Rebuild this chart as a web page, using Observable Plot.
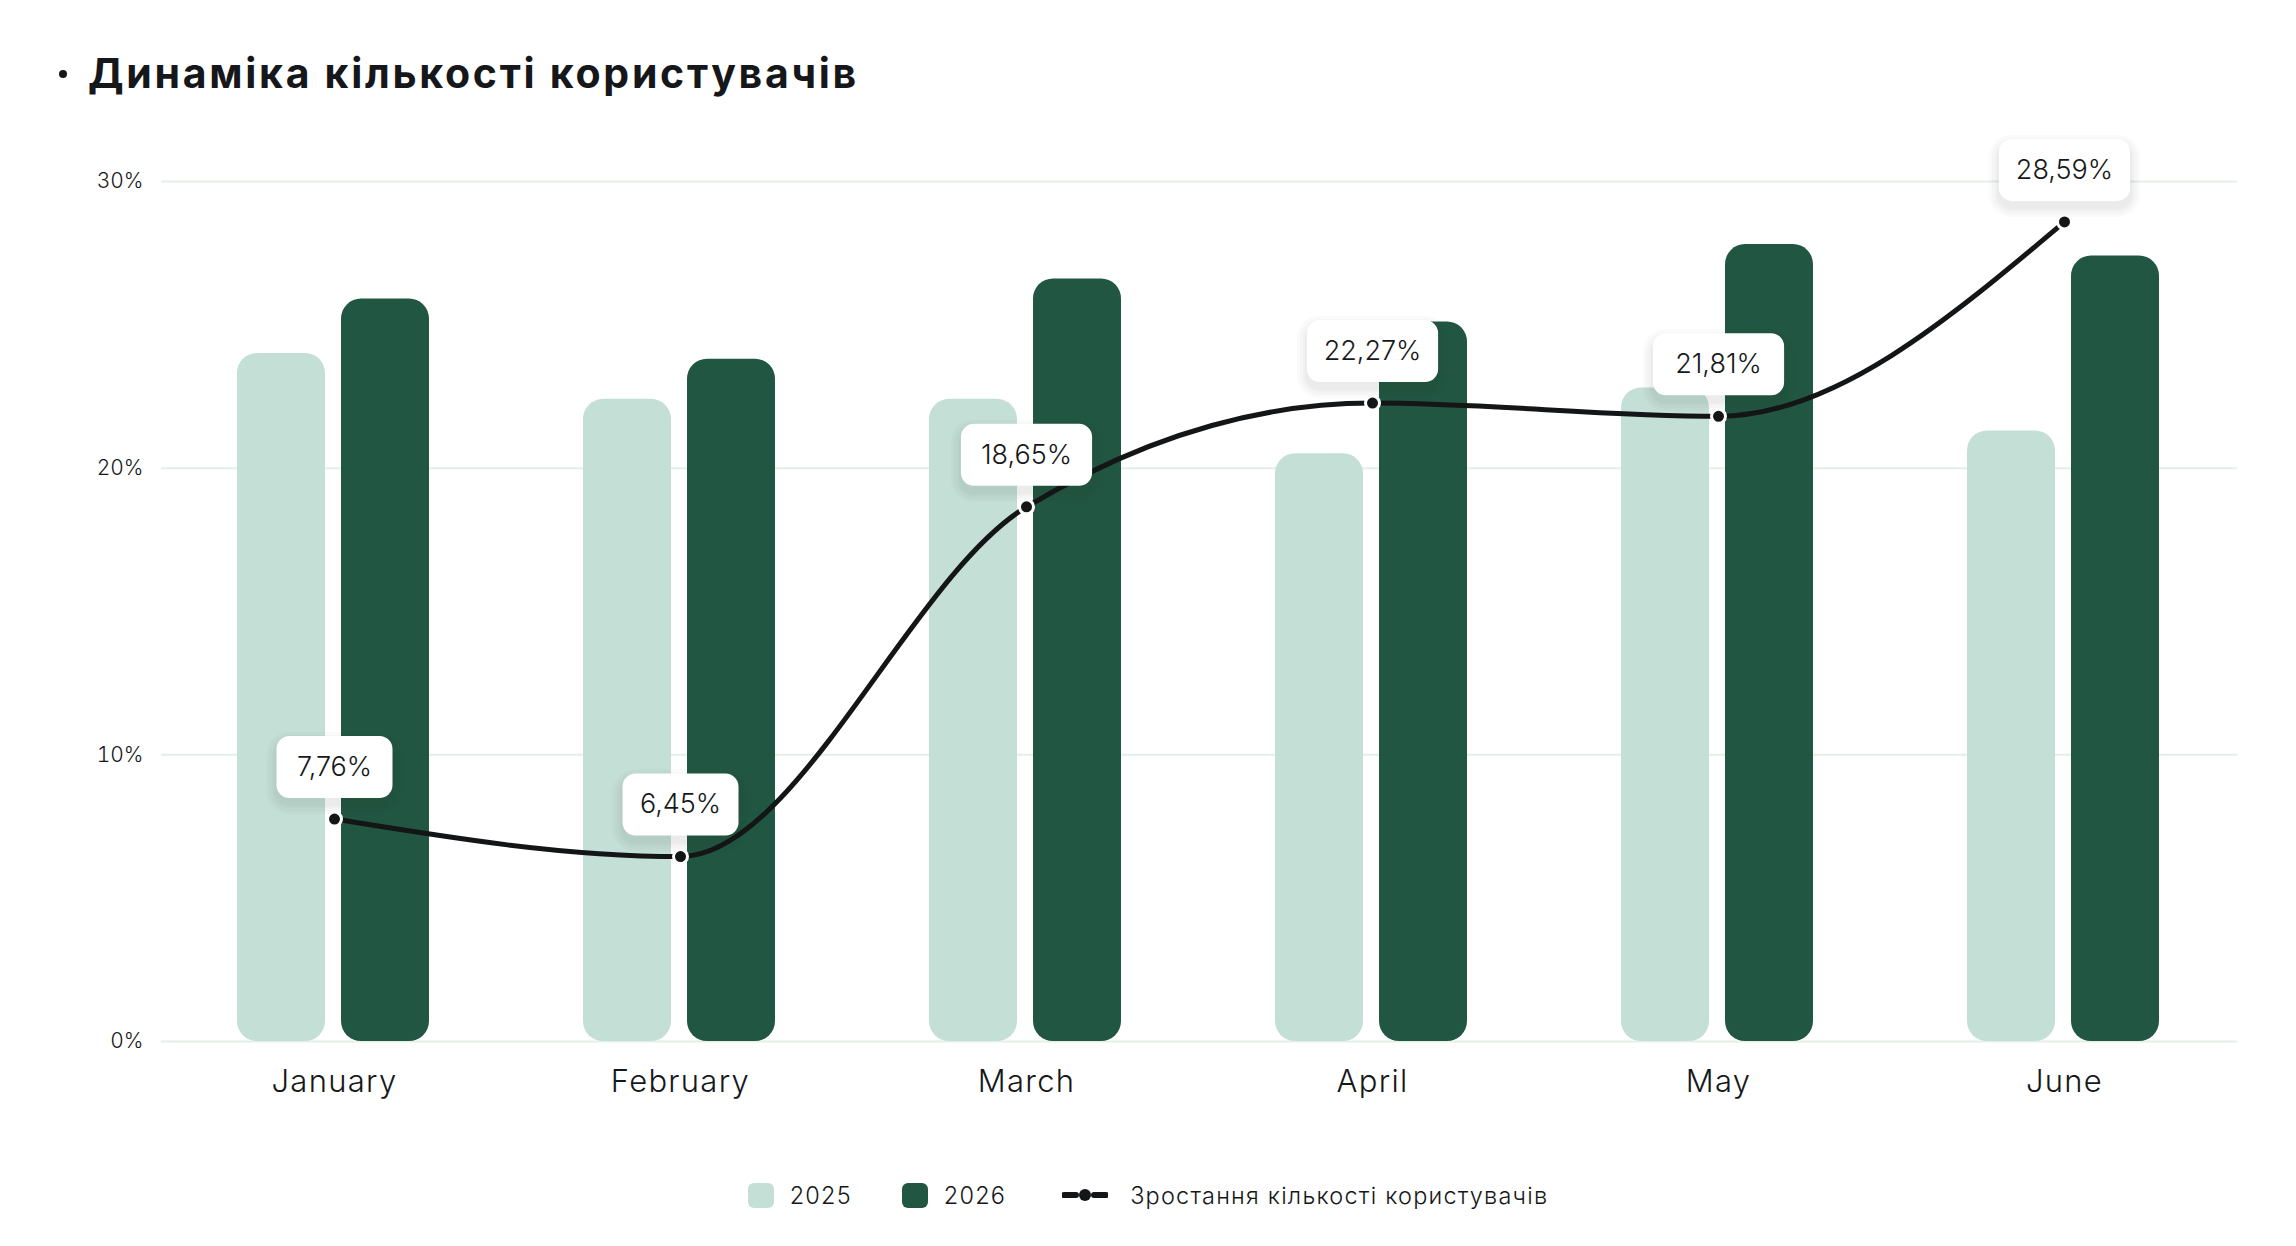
<!DOCTYPE html>
<html><head><meta charset="utf-8">
<script src="https://cdn.jsdelivr.net/npm/d3@7"></script>
<script src="https://cdn.jsdelivr.net/npm/@observablehq/plot@0.6"></script>
<style>
html,body{margin:0;padding:0;background:#fff;width:2296px;height:1246px;overflow:hidden;font-family:Inter, sans-serif;color:#16171a}
#title{position:absolute;left:88px;top:53px;font-size:41px;line-height:40px;font-weight:700;white-space:nowrap;letter-spacing:2.7px}
#bullet{position:absolute;left:59px;top:70px;width:8px;height:8px;border-radius:50%;background:#16171a}
#chart{position:absolute;left:0;top:120px}
#legend{position:absolute;left:0;width:2296px;top:1175px;height:40px;display:flex;justify-content:center;align-items:center;font-size:23.5px;font-weight:350;letter-spacing:1.2px}
.item{display:flex;align-items:center}
.sw{width:26px;height:25px;border-radius:6px;margin-right:16px}
.gap{width:50px}
g[aria-label="x-axis tick label"] text{letter-spacing:1.3px}
</style></head>
<body>
<div id="bullet"></div>
<div id="title">Динаміка кількості користувачів</div>
<div id="chart"></div>
<div id="legend">
  <div class="item"><div class="sw" style="background:#c4dfd6"></div><span>2025</span></div>
  <div class="gap"></div>
  <div class="item"><div class="sw" style="background:#215742"></div><span>2026</span></div>
  <div class="gap" style="width:56px"></div>
  <div class="item"><svg width="46" height="14" style="margin-right:22px"><line x1="2" y1="7" x2="14" y2="7" stroke="#141517" stroke-width="6" stroke-linecap="round"/><line x1="32" y1="7" x2="44" y2="7" stroke="#141517" stroke-width="6" stroke-linecap="round"/><circle cx="23" cy="7" r="6" fill="#141517"/></svg><span>Зростання кількості користувачів</span></div>
</div>
<script>
const months = ["January", "February", "March", "April", "May", "June"];
const users2025 = [24.0, 22.4, 22.4, 20.5, 22.8, 21.3];
const users2026 = [25.9, 23.8, 26.6, 25.1, 27.8, 27.4];
const growth = [7.76, 6.45, 18.65, 22.27, 21.81, 28.59];
const yTicks = [0, 10, 20, 30];

const data = months.map((m, i) => ({month: m, a: users2025[i], b: users2026[i], g: growth[i]}));
const fmt = v => v.toFixed(2).replace(".", ",") + "%";
const halfWidth = d => 20 + 7.6 * fmt(d.g).length;
const roundRect = (grow) => ({
  draw(ctx, size) {
    const w = Math.sqrt(size / Math.PI) + grow, h = 31 + grow, r = 13 + grow;
    ctx.moveTo(-w + r, -h);
    ctx.lineTo(w - r, -h);
    ctx.arcTo(w, -h, w, -h + r, r);
    ctx.lineTo(w, h - r);
    ctx.arcTo(w, h, w - r, h, r);
    ctx.lineTo(-w + r, h);
    ctx.arcTo(-w, h, -w, h - r, r);
    ctx.lineTo(-w, -h + r);
    ctx.arcTo(-w, -h, -w + r, -h, r);
    ctx.closePath();
  }
});
const shadowLayers = [10, 7, 4, 2].map(g =>
  Plot.dot(data, {x: "month", y: "g", r: halfWidth, symbol: roundRect(g), fill: "#1e2832", fillOpacity: 0.022, dy: -46})
);

const chart = Plot.plot({
  width: 2296, height: 1000,
  marginLeft: 161, marginRight: 59, marginTop: 61, marginBottom: 79,
  style: {fontFamily: "Inter, sans-serif", color: "#16171a", background: "transparent", overflow: "visible"},
  x: {type: "band", domain: months, padding: 0, label: null},
  y: {domain: [0, 30], label: null},
  r: {type: "identity"},
  marks: [
    Plot.ruleY(yTicks, {stroke: "#e3efe7", strokeWidth: 2}),
    Plot.axisY({ticks: yTicks, tickFormat: d => d + "%", tickSize: 0, tickPadding: 18, fontSize: 21, fontWeight: 300, label: null}),
    Plot.axisX({tickSize: 0, tickPadding: 28, fontSize: 31, fontWeight: 350, label: null}),
    Plot.barY(data, {x: "month", y: "a", fill: "#c4dfd6", insetLeft: 76, insetRight: 182, rx: 20}),
    Plot.barY(data, {x: "month", y: "b", fill: "#215742", insetLeft: 180, insetRight: 78, rx: 20}),
    Plot.line(data, {x: "month", y: "g", curve: "monotone-x", stroke: "#141517", strokeWidth: 5}),
    Plot.dot(data, {x: "month", y: "g", r: 7, fill: "#141517", stroke: "#fff", strokeWidth: 3}),
    ...shadowLayers,
    Plot.dot(data, {x: "month", y: "g", r: halfWidth, symbol: roundRect(0), fill: "#fff", dy: -52}),
    Plot.text(data, {x: "month", y: "g", text: d => fmt(d.g), dy: -52, fontSize: 27, fontWeight: 300, fill: "#16171a"})
  ]
});
document.getElementById("chart").appendChild(chart);
</script>
</body></html>
